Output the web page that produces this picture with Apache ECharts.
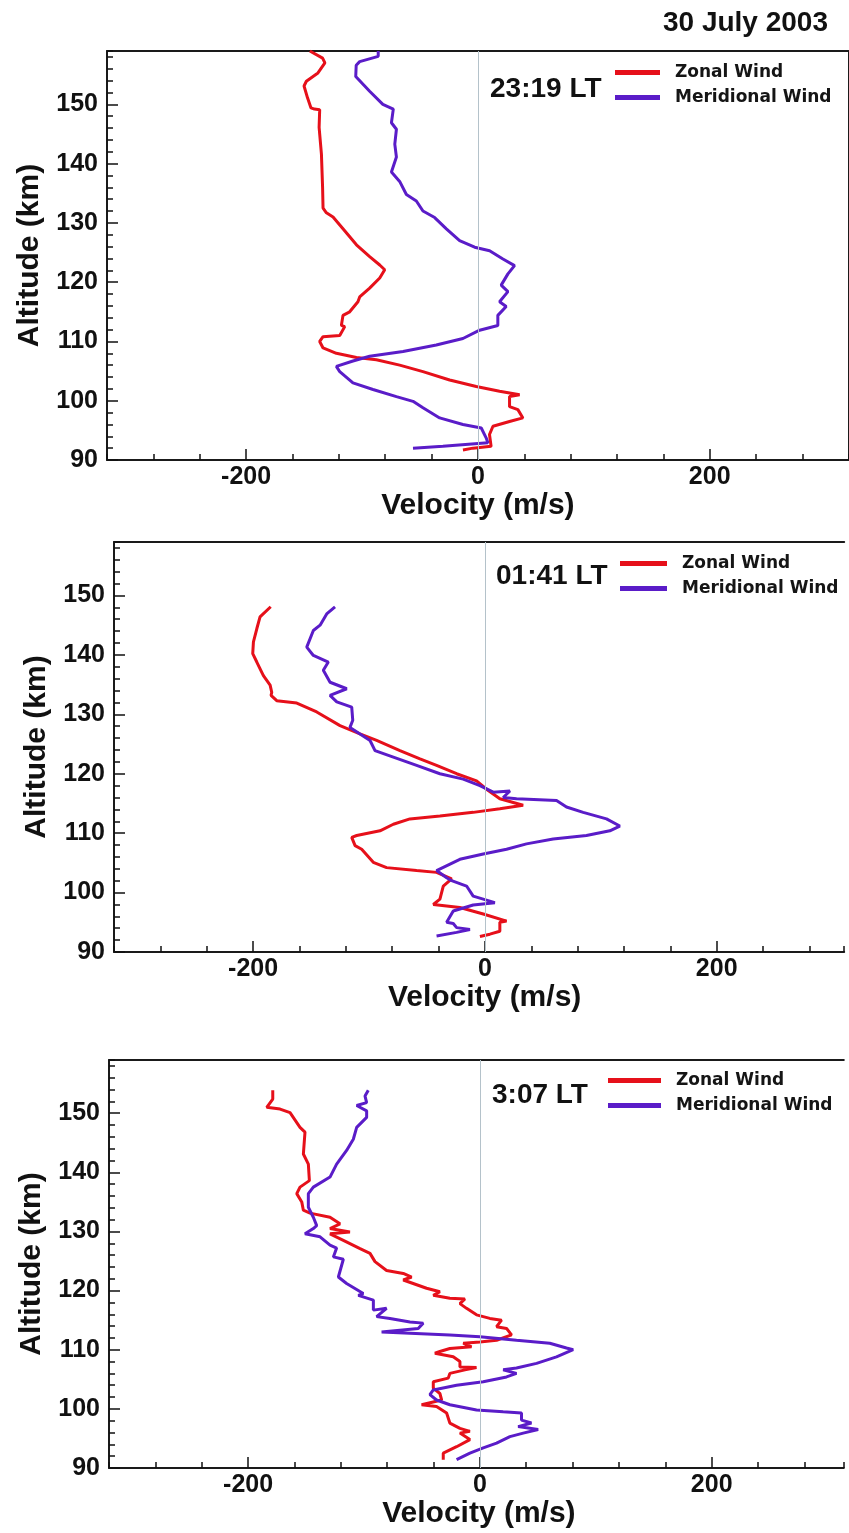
<!DOCTYPE html>
<html>
<head>
<meta charset="utf-8">
<script src="https://cdn.jsdelivr.net/npm/echarts@6/dist/echarts.min.js"></script>
<style>
html,body{margin:0;padding:0;background:#fff;}
#chart{width:849px;height:1533px;}
</style>
</head>
<body>
<div id="chart"></div>
<script>
// ---------- DATA (velocity m/s, altitude km) ----------
const dateTitle = '30 July 2003';
const panelTimes = ['23:19 LT', '01:41 LT', '3:07 LT'];
const seriesNames = ['Zonal Wind', 'Meridional Wind'];
const xTickLabels = [-200, 0, 200];
const yTickLabels = [90, 100, 110, 120, 130, 140, 150];

const zonal2319 = [[-145,159.0],[-134,157.8],[-132,157.0],[-138,155.3],[-148,153.9],[-150,153.1],[-147,151.1],[-144,149.4],[-141,149.2],[-136.5,149.1],[-137,146.1],[-135,141.6],[-134,136],[-133.6,132.5],[-130.7,131.7],[-125,131],[-116.4,129],[-104.8,126.3],[-93.4,124.3],[-84.7,122.9],[-80.4,122.1],[-84.7,120.7],[-93.4,119.0],[-102,117.5],[-103.5,116.7],[-110.6,115],[-116.4,114.4],[-117.8,112.7],[-114.9,112.5],[-119.2,111],[-133.6,110.8],[-136.5,110],[-133.6,108.9],[-122.1,108],[-104.8,107.3],[-87.6,106.9],[-67.5,106],[-47.4,104.9],[-24.4,103.5],[-1.4,102.4],[18.7,101.6],[36,101],[27.3,100.7],[27.3,99],[34.5,98.5],[38.8,97.1],[27.3,96.5],[13,95.7],[10,94.3],[11.4,92.3],[-4.3,92],[-12.9,91.7]];
const merid2319 = [[-86,159],[-86,158.1],[-102,157.2],[-105,156.6],[-105.4,154.7],[-93.4,152.2],[-82,150],[-73,149.2],[-74.6,146.9],[-70.3,145.8],[-71.7,143.3],[-70.3,141.1],[-74.6,138.6],[-67.5,137],[-61.7,134.8],[-53.1,133.7],[-47.4,132],[-37.3,130.9],[-27.2,129],[-15.8,127],[-2.8,125.9],[10.1,125.3],[21.6,123.9],[31.6,122.8],[25.9,121.4],[20.1,119.5],[25.9,118.4],[18.7,116.7],[24.4,115.9],[17.2,114.4],[17.2,112.7],[1.5,111.9],[-12.9,110.5],[-35.9,109.4],[-64.6,108.3],[-93.4,107.5],[-107.8,106.7],[-122.1,105.8],[-119.2,104.9],[-107.8,103],[-90.5,101.9],[-70.3,100.7],[-56,99.9],[-47.4,98.8],[-33,97.1],[-12.9,96],[2.9,95.4],[7.2,93.7],[8.6,92.9],[10.1,92.6],[-30.2,92.3],[-56,92]];

const zonal0141 = [[-184.8,148.1],[-194,146.4],[-196.8,144.4],[-199.7,142.2],[-200.3,140.2],[-196.8,138.8],[-191.1,136.5],[-185.3,134.9],[-183.9,133.7],[-184.5,133.2],[-179.6,132.3],[-162.3,131.9],[-145.1,130.4],[-125,128.1],[-107.8,126.7],[-93.4,125.6],[-73.3,123.9],[-56,122.5],[-41.7,121.4],[-24.4,120],[-7.2,118.8],[1.4,117.4],[12.9,115.8],[33,114.7],[12.9,114.1],[-10.1,113.5],[-38.8,112.9],[-64.7,112.4],[-79,111.5],[-90.5,110.4],[-110.6,109.6],[-114.9,109.3],[-112,107.9],[-106.3,107.3],[-96.3,105.1],[-84.8,104.2],[-58.9,103.7],[-41.7,103.4],[-28.7,102.3],[-35.9,101.1],[-38.8,98.9],[-44.5,98],[-21.6,97.5],[-1.4,96.4],[18.7,95.2],[12.9,95],[12.9,93.5],[4.3,93],[-4.3,92.6]];
const merid0141 = [[-129.3,148.1],[-136.5,146.9],[-142.2,145],[-148,144.1],[-153.7,141.3],[-148,139.9],[-135.1,138.8],[-139.4,137.4],[-133.6,135.4],[-119.2,134.3],[-133.6,133.2],[-127.8,132.1],[-114.9,131.2],[-114,129],[-116.4,127.8],[-99.1,125.6],[-94.8,123.9],[-79,122.8],[-58.9,121.4],[-38.8,120],[-18.7,119.1],[-4.3,118],[7.2,116.9],[21.6,117.1],[15.8,116],[27.3,115.8],[61.8,115.5],[70.4,114.4],[84.8,113.5],[104.9,112.4],[116.4,111.2],[107.8,110.4],[87.6,109.6],[58.9,109],[35.9,108.2],[18.7,107.3],[-1.4,106.5],[-21.6,105.6],[-41.7,103.7],[-33,102.5],[-28.7,102],[-15.8,101.1],[-10.1,99.4],[8.6,98.3],[-10.1,97.9],[-27.3,96.9],[-33,95],[-27.3,94.8],[-24.4,94.1],[-12.9,93.8],[-24.4,93.3],[-41.7,92.7]];

const zonal0307 = [[-178.7,153.9],[-178.7,152.4],[-183.9,151],[-172.4,150.7],[-163.8,150.1],[-155.2,147.6],[-150.9,146.8],[-152.3,143.1],[-148,141.4],[-147.1,138.6],[-155.2,137.5],[-158,136.4],[-153.7,135],[-152.3,133.6],[-146.6,133.1],[-129.3,132.4],[-120.7,131.3],[-129.3,130.5],[-112.1,129.9],[-129.3,129.6],[-117.8,128.5],[-103.4,127.1],[-94.8,126.3],[-90.5,124.9],[-80.5,123.4],[-66.1,122.9],[-58.9,122.3],[-66.1,121.8],[-46,120.4],[-34.5,119.8],[-40.2,119.2],[-25.9,118.7],[-12.9,118.6],[-17.2,117.8],[-11.5,117],[-2.9,115.9],[8.6,115.3],[18.7,115],[14.4,113.9],[23,113.6],[27.3,112.5],[14.4,111.6],[0,111.3],[-14.4,111.1],[-7.2,110.5],[-25.9,110.2],[-34.5,109.7],[-38.8,109.4],[-23,108.8],[-17.2,108],[-17.2,107.1],[-2.9,107.0],[-12.9,106.6],[-25.9,106],[-27.3,105.2],[-40.2,104.6],[-40.2,103.5],[-34.5,102.6],[-33,101.5],[-50.3,100.7],[-37.4,100.4],[-28.7,99.3],[-25.9,97.6],[-17.2,96.7],[-8.6,96.2],[-17.2,95.9],[-8.6,94.8],[-20.1,93.6],[-31.6,92.5],[-31.6,91.4]];
const merid0307 = [[-96.3,153.9],[-99.1,152.9],[-97.7,151.8],[-106.3,151.3],[-97.7,150.4],[-97.7,149.3],[-106.3,147.6],[-109.2,145.6],[-115,143.7],[-123.6,141.4],[-129.3,139.2],[-143.7,137.5],[-148,136.4],[-148,134.1],[-143.7,132.4],[-140.8,131],[-143.7,130.5],[-150.9,129.6],[-137.9,129.1],[-129.3,127.7],[-123.6,127.2],[-126.4,125.7],[-117.8,125.3],[-122.1,122.3],[-115,121.2],[-100.6,119.5],[-104.9,119.2],[-91.9,118.4],[-91.9,116.7],[-80.5,117],[-89.1,115.6],[-77.6,115.3],[-60.3,114.7],[-48.9,114.5],[-53.2,113.6],[-84.8,113],[-60.3,112.8],[-25.9,112.5],[0,112.2],[31.6,111.6],[60.3,111.1],[74.7,110.3],[80.5,110],[66.1,108.8],[48.9,107.7],[31.6,106.9],[20.1,106.6],[31.6,106],[23,105.4],[2.9,104.6],[-20.1,104],[-40.2,103.2],[-43.1,102.4],[-37.4,101.5],[-25.9,100.7],[-2.9,99.8],[20.1,99.5],[35.9,99.3],[35.9,98.1],[44.5,97.6],[33,97],[50.3,96.5],[37.4,95.9],[25.9,95.3],[14.4,94.2],[2.9,93.4],[-8.6,92.5],[-20.1,91.4]];

const zonalSets = [zonal2319, zonal0141, zonal0307];
const meridSets = [merid2319, merid0141, merid0307];

// ---------- LAYOUT / STYLE ----------
const FONT = "'Liberation Sans', Arial, Helvetica, sans-serif";
const LFONT = "'DejaVu Sans', Verdana, sans-serif";
const RED = '#e6101a';
const PURPLE = '#5a1cc8';
const BORDER = {color:'#1a1a1a', width:2};
const TICK = {color:'#111', width:1.5};
const layout = [
  {grid:{left:107, top:51, width:741.8, height:409}, xmax:320, rightBorder:true, time:[490, 75], legend:[615, 64], iw:45, namePad:0},
  {grid:{left:114, top:542, width:730.2, height:410}, xmax:310, rightBorder:false, time:[496, 562], legend:[620, 555], iw:47, namePad:11},
  {grid:{left:109, top:1060, width:734.8, height:408}, xmax:314, rightBorder:false, time:[492, 1081], legend:[608, 1072], iw:53, namePad:5}
];

const grids = [], xAxes = [], yAxes = [], series = [], titles = [], legends = [];
titles.push({text: dateTitle, right: 21, top: 9, padding: 0,
  textStyle:{fontFamily: FONT, fontWeight:'bold', fontSize: 28, color:'#111'}});

layout.forEach((L, i) => {
  grids.push(Object.assign({show:false}, L.grid));
  const xi = xAxes.length, yi = yAxes.length;
  // main x axis (bottom border, labels, major ticks)
  xAxes.push({type:'value', gridIndex:i, min:-320, max:L.xmax, position:'bottom',
    name:'Velocity (m/s)', nameLocation:'middle', nameGap:26,
    nameTextStyle:{fontFamily:FONT, fontWeight:'bold', fontSize:30, color:'#111', padding:[0,0,0,L.namePad]},
    axisLine:{show:true, onZero:false, lineStyle:BORDER}, splitLine:{show:false},
    axisTick:{show:true, inside:true, length:11, customValues:xTickLabels, lineStyle:TICK},
    axisLabel:{show:true, customValues:xTickLabels, margin:5, fontFamily:FONT, fontWeight:'bold', fontSize:25, color:'#111'}});
  // minor x ticks
  xAxes.push({type:'value', gridIndex:i, min:-320, max:L.xmax, interval:40, position:'bottom',
    axisLine:{show:false, onZero:false}, splitLine:{show:false}, axisLabel:{show:false},
    axisTick:{show:true, inside:true, length:6, lineStyle:TICK}});
  // top border
  xAxes.push({type:'value', gridIndex:i, min:-320, max:L.xmax, position:'top',
    axisLine:{show:true, onZero:false, lineStyle:BORDER}, splitLine:{show:false},
    axisLabel:{show:false}, axisTick:{show:false}});
  // main y axis (left border, labels, major ticks)
  yAxes.push({type:'value', gridIndex:i, min:90, max:159, position:'left',
    name:'Altitude (km)', nameLocation:'middle', nameGap:62,
    nameTextStyle:{fontFamily:FONT, fontWeight:'bold', fontSize:30, color:'#111'},
    axisLine:{show:true, onZero:false, lineStyle:BORDER}, splitLine:{show:false},
    axisTick:{show:true, inside:true, length:11, customValues:yTickLabels, lineStyle:TICK},
    axisLabel:{show:true, customValues:yTickLabels, margin:9, fontFamily:FONT, fontWeight:'bold', fontSize:25, color:'#111'}});
  // minor y ticks
  yAxes.push({type:'value', gridIndex:i, min:90, max:159, interval:2, position:'left',
    axisLine:{show:false, onZero:false}, splitLine:{show:false}, axisLabel:{show:false},
    axisTick:{show:true, inside:true, length:6, lineStyle:TICK}});
  if (L.rightBorder) {
    yAxes.push({type:'value', gridIndex:i, min:90, max:159, position:'right',
      axisLine:{show:true, onZero:false, lineStyle:BORDER}, splitLine:{show:false},
      axisLabel:{show:false}, axisTick:{show:false}});
  }

  series.push({type:'line', name:seriesNames[0], xAxisIndex:xi, yAxisIndex:yi,
    data: zonalSets[i], showSymbol:false, symbol:'none', smooth:false,
    lineStyle:{width:3, color:RED}, itemStyle:{color:RED},
    markLine:{silent:true, symbol:['none','none'], label:{show:false}, animation:false,
      lineStyle:{color:'#b4c2ca', width:1, type:'solid'}, data:[{xAxis:0}]}});
  series.push({type:'line', name:seriesNames[1], xAxisIndex:xi, yAxisIndex:yi,
    data: meridSets[i], showSymbol:false, symbol:'none', smooth:false,
    lineStyle:{width:3, color:PURPLE}, itemStyle:{color:PURPLE}});

  titles.push({text: panelTimes[i], left: L.time[0], top: L.time[1], padding:0,
    textStyle:{fontFamily: FONT, fontWeight:'bold', fontSize: 28, color:'#111'}});
  legends.push({show:true, orient:'vertical', left:L.legend[0], top:L.legend[1], padding:0,
    itemWidth:L.iw, itemHeight:5, itemGap:8, icon:'rect', selectedMode:false,
    data: seriesNames,
    textStyle:{fontFamily:LFONT, fontWeight:'bold', fontSize:17, color:'#151515', padding:[0,0,0,10]}});
});

const chart = echarts.init(document.getElementById('chart'), null, {renderer:'canvas'});
chart.setOption({
  animation:false,
  backgroundColor:'#fff',
  title: titles,
  legend: legends,
  grid: grids,
  xAxis: xAxes,
  yAxis: yAxes,
  series: series
});
</script>
</body>
</html>
